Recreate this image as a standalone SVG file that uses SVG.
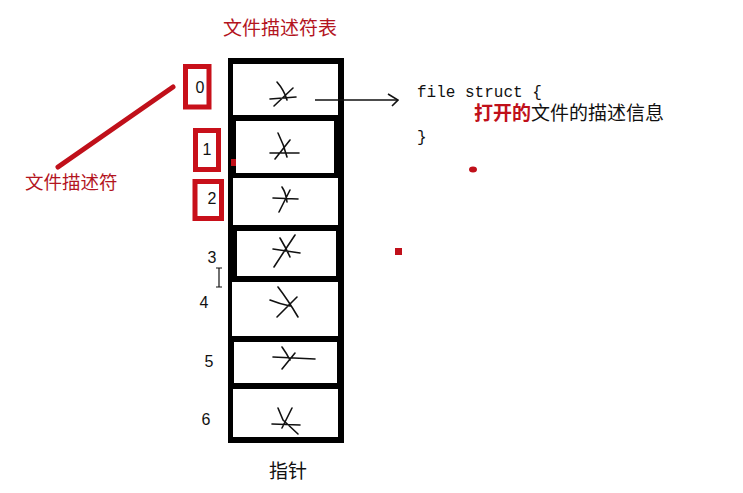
<svg xmlns="http://www.w3.org/2000/svg" width="743" height="493" viewBox="0 0 743 493">
<style>
.red{fill:#c0101a}
.t{font-family:"Liberation Sans","Noto Sans CJK SC",sans-serif}
.num{font-family:"Liberation Sans",sans-serif;font-size:16px;fill:#111}
.mono{font-family:"Liberation Mono","Noto Sans CJK SC",monospace;font-size:16px;fill:#111}
.cell{fill:#fff}
.star{fill:none;stroke:#111;stroke-width:1.6;stroke-linecap:round}
.box{fill:#fff;stroke:#c8101a;stroke-width:5}
</style>
<defs>
<marker id="open" markerWidth="12" markerHeight="14" refX="11" refY="7" orient="auto" markerUnits="userSpaceOnUse">
<path d="M1,1 L11,7 L5,13" fill="none" stroke="#111" stroke-width="1.6"/>
</marker>
</defs>
<rect width="743" height="493" fill="#fff"/>
<text class="t" x="280" y="35" font-size="19" fill="#b3141e" text-anchor="middle">文件描述符表</text>
<g id="table">
<rect x="228" y="58" width="116" height="385" fill="#000"/>
<rect class="cell" x="233" y="64" width="105" height="51"/>
<rect class="cell" x="236" y="121" width="98" height="52"/>
<rect class="cell" x="233" y="178" width="105" height="47"/>
<rect class="cell" x="237" y="231" width="99" height="45"/>
<rect class="cell" x="232" y="282" width="106" height="54"/>
<rect class="cell" x="234" y="342" width="103" height="41"/>
<rect class="cell" x="233" y="389" width="105" height="48"/>
</g>
<g id="stars">
<path class="star" d="M270,99 L296,97 M274,106 L293,88 M277,82 Q284,90 287,100"/>
<path class="star" d="M270,153 L299,153 M275,159 L290,140 M278,133 Q284,145 287,157"/>
<path class="star" d="M273,198 L298,199 M279,212 L290,190 M282,187 Q286,193 287,202"/>
<path class="star" d="M273,249 L300,253 M274,267 Q285,250 295,235 M280,238 Q286,248 290,257"/>
<path class="star" d="M270,300 Q280,304 290,306 M277,317 L297,297 M278,287 Q288,300 298,317"/>
<path class="star" d="M273,357 L315,359 M282,369 L295,353 M282,347 Q287,354 290,360"/>
<path class="star" d="M272,424 L300,425 M283,420 L298,434 M278,408 L283,420 M292,408 L282,428"/>
</g>
<g id="idx0"><rect class="box" x="185.5" y="66.5" width="23.5" height="40.5"/><text class="num" x="200" y="93" text-anchor="middle">0</text></g>
<g id="idx1"><rect class="box" x="195.5" y="130.5" width="23" height="39"/><text class="num" x="207" y="155" text-anchor="middle">1</text></g>
<g id="idx2"><rect class="box" x="195" y="181.5" width="26.5" height="37"/><text class="num" x="212" y="204" text-anchor="middle">2</text></g>
<g id="idx3"><text class="num" x="212" y="263" text-anchor="middle">3</text></g>
<g id="idx4"><text class="num" x="204" y="308" text-anchor="middle">4</text></g>
<g id="idx5"><text class="num" x="209" y="367" text-anchor="middle">5</text></g>
<g id="idx6"><text class="num" x="206" y="425" text-anchor="middle">6</text></g>
<g id="connectors">
<line x1="58" y1="167" x2="173" y2="87" stroke="#c0101a" stroke-width="5" stroke-linecap="round"/>
<line x1="315" y1="100" x2="398" y2="100" stroke="#111" stroke-width="1.6" marker-end="url(#open)"/>
</g>
<g id="label-fd"><text class="t" x="25" y="189" font-size="18.5" fill="#b3141e">文件描述符</text></g>
<g id="struct">
<text class="mono" x="417" y="97">file struct {</text>
<text class="t" x="474" y="120" font-size="19" fill="#111"><tspan fill="#c0101a" font-weight="bold">打开的</tspan>文件的描述信息</text>
<text class="mono" x="417" y="142">}</text>
</g>
<g id="label-ptr"><text class="t" x="288" y="478" font-size="19" fill="#111" text-anchor="middle">指针</text></g>
<g id="marks">
<rect class="red" x="231" y="159" width="5" height="7"/>
<ellipse class="red" cx="473" cy="169.5" rx="4" ry="3"/>
<rect class="red" x="395" y="248" width="7" height="7"/>
<path d="M219,268 V287 M216,268 H222 M216,287 H222" stroke="#111" stroke-width="1.2" fill="none"/>
</g>
</svg>
